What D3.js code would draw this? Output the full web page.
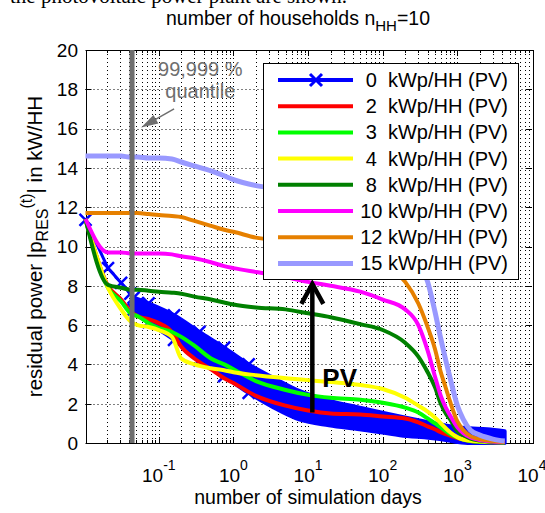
<!DOCTYPE html>
<html>
<head>
<meta charset="utf-8">
<script src="https://d3js.org/d3.v7.min.js"></script>
<style>
  body { margin:0; background:#fff; }
  svg { display:block; font-family:"Liberation Sans", Arial, sans-serif; }
</style>
</head>
<body>
<script>
// number of simulation days where the curves were read (log axis)
var days = [1/96, 2/96, 3/96, 4/96, 5/96, 0.073, 0.1, 0.15, 0.2, 0.3, 0.5, 0.75, 1, 2, 5, 10, 20, 50,
            100, 200, 300, 400, 500, 600, 700, 800, 1000, 1200, 1500, 2000, 3000, 4300];

// residual power in kW/HH for every PV size
var pv2  = [11.4, 8.0, 7.3, 6.7, 6.45, 6.3, 6.1, 5.65, 4.9, 4.3, 3.75, 3.3, 3.05, 2.4, 1.9, 1.65, 1.5, 1.45,
            1.35, 1.25, 1.05, 0.85, 0.7, 0.55, 0.45, 0.37, 0.25, 0.18, 0.1, 0.06, 0.04, 0.03];
var pv3  = [11.4, 7.9, 7.2, 6.6, 6.45, 6.1, 5.85, 5.65, 5.4, 4.95, 4.3, 4.0, 3.75, 3.15, 2.7, 2.45, 2.3, 2.2,
            2.05, 1.8, 1.55, 1.25, 1.0, 0.8, 0.6, 0.45, 0.28, 0.17, 0.1, 0.06, 0.04, 0.03];
var pv4  = [11.4, 7.9, 6.8, 6.2, 6.0, 5.9, 5.75, 5.4, 4.3, 4.0, 3.8, 3.7, 3.6, 3.45, 3.3, 3.2, 3.1, 2.95,
            2.75, 2.3, 1.9, 1.6, 1.3, 1.0, 0.75, 0.55, 0.3, 0.18, 0.12, 0.08, 0.05, 0.04];
var pv8  = [11.4, 8.05, 7.9, 7.8, 7.8, 7.75, 7.7, 7.65, 7.6, 7.45, 7.3, 7.15, 7.05, 6.9, 6.8, 6.6, 6.4, 6.05,
            5.75, 5.1, 4.4, 3.6, 2.85, 2.0, 1.5, 1.2, 0.6, 0.4, 0.22, 0.12, 0.06, 0.04];
var pv10 = [11.4, 9.7, 9.7, 9.65, 9.65, 9.65, 9.65, 9.6, 9.5, 9.4, 9.2, 9.0, 8.9, 8.7, 8.45, 8.2, 8.0, 7.7,
            7.3, 6.8, 6.0, 4.7, 3.4, 2.4, 1.8, 1.4, 0.8, 0.5, 0.28, 0.15, 0.08, 0.05];
var pv12 = [11.7, 11.7, 11.7, 11.7, 11.7, 11.65, 11.6, 11.55, 11.5, 11.3, 11.05, 10.85, 10.75, 10.45, 10.3, 10.1, 9.8, 9.4,
            9.0, 8.2, 7.1, 5.9, 4.8, 3.6, 2.8, 2.1, 1.1, 0.66, 0.35, 0.2, 0.1, 0.05];
var pv15 = [14.6, 14.6, 14.6, 14.55, 14.55, 14.5, 14.5, 14.45, 14.3, 14.1, 13.85, 13.6, 13.4, 13.1, 12.9, 12.6, 12.2, 11.6,
            11.0, 10.2, 9.2, 8.2, 6.7, 5.3, 4.2, 3.3, 1.9, 1.2, 0.65, 0.4, 0.2, 0.1];

// 0 kWp: first single points, then the dense cloud of markers (upper / lower edge)
var blueDays = [1/96, 2/96, 3/96, 4/96, 5/96];
var blueKw   = [11.35, 8.9, 8.15, 7.6, 7.1];
var bandDays = [0.046, 0.073, 0.16, 0.35, 0.75, 1.6, 3.5, 7.6, 19, 49, 170, 580, 1000, 1470, 2500, 4300];
var bandHigh = [7.4, 7.1, 6.5, 5.65, 4.85, 4.0, 3.3, 2.65, 2.15, 1.8, 1.35, 0.95, 0.8, 0.75, 0.7, 0.6];
var bandLow  = [6.8, 6.15, 5.25, 4.2, 3.4, 2.55, 1.8, 1.2, 0.9, 0.7, 0.4, 0.2, 0.05, 0.0, 0.0, 0.0];

var pvSizes  = ["0", "2", "3", "4", "8", "10", "12", "15"];
var pvColors = ["#0000ff", "#ff0000", "#00ff00", "#ffff00", "#008000", "#ff00ff", "#e68000", "#9999ff"];
var xTickExp = [-1, 0, 1, 2, 3, 4];
var yTicks   = [0, 2, 4, 6, 8, 10, 12, 14, 16, 18, 20];
var quantileDay = 0.0438;

var svg = d3.select("body").append("svg")
  .attr("width", 545)
  .attr("height", 513);

svg.append("rect").attr("width", 545).attr("height", 513).attr("fill", "#fff");

var x = d3.scaleLog().domain([1/96, 1e4]).range([85.5, 532]);
var y = d3.scaleLinear().domain([0, 20]).range([443, 50]);
var L = 85.5, R = 532, T = 50, B = 443;
var px = function(v) { return Math.round(v) + 0.5; };

// grid
var minor = [];
for (var e = -2; e < 4; e++) {
  for (var k = 1; k < 10; k++) {
    var v = k * Math.pow(10, e);
    if (v > 1/96 && v < 1e4) minor.push(v);
  }
}
var grid = svg.append("g").attr("stroke", "#000").attr("stroke-width", 1).attr("stroke-dasharray", "1,3");
grid.selectAll(".gx").data(minor).enter().append("line")
  .attr("x1", function(d) { return px(x(d)); }).attr("x2", function(d) { return px(x(d)); })
  .attr("y1", T).attr("y2", B);
grid.selectAll(".gy").data(yTicks.slice(1, -1)).enter().append("line")
  .attr("x1", L).attr("x2", R)
  .attr("y1", function(d) { return px(y(d)); }).attr("y2", function(d) { return px(y(d)); });

// axes box and ticks
var ax = svg.append("g").attr("stroke", "#000").attr("stroke-width", 1).attr("fill", "none");
ax.append("rect").attr("x", px(L)).attr("y", px(T)).attr("width", Math.round(R - L)).attr("height", Math.round(B - T));
minor.forEach(function(d) {
  var isMajor = Math.abs(Math.log10(d) - Math.round(Math.log10(d))) < 1e-9;
  var len = isMajor ? 6 : 3;
  ax.append("line").attr("x1", px(x(d))).attr("x2", px(x(d))).attr("y1", B).attr("y2", B - len);
  ax.append("line").attr("x1", px(x(d))).attr("x2", px(x(d))).attr("y1", T).attr("y2", T + len);
});
yTicks.forEach(function(d) {
  ax.append("line").attr("x1", L).attr("x2", L + 6).attr("y1", px(y(d))).attr("y2", px(y(d)));
  ax.append("line").attr("x1", R).attr("x2", R - 6).attr("y1", px(y(d))).attr("y2", px(y(d)));
});

// tick labels
svg.selectAll(".ytl").data(yTicks).enter().append("text")
  .attr("x", 78).attr("y", function(d) { return y(d); }).attr("dy", "0.36em")
  .attr("text-anchor", "end").attr("font-size", 19).text(function(d) { return d; });
xTickExp.forEach(function(p) {
  var t = svg.append("text").attr("x", x(Math.pow(10, p))).attr("y", 482)
    .attr("text-anchor", "middle").attr("font-size", 19);
  t.append("tspan").text("10");
  t.append("tspan").attr("dy", -12).attr("font-size", 14).text(p);
});

// 0 kWp: marker cloud + single points
var cross = "M-6,-6L6,6M-6,6L6,-6";
var band = bandDays.map(function(d, i) { return { day: d, hi: bandHigh[i], lo: bandLow[i] }; });
var area = d3.area().x(function(d) { return x(d.day); })
  .y0(function(d) { return y(d.lo); }).y1(function(d) { return y(d.hi); })
  .curve(d3.curveMonotoneX);
svg.append("path").attr("d", area(band))
  .attr("fill", pvColors[0]).attr("stroke", pvColors[0]).attr("stroke-width", 4).attr("stroke-linejoin", "round");
// markers sticking out of the cloud where it is still sparse (first part)
var edgePts = band.filter(function(d) { return d.day < 2; });
edgePts = edgePts.map(function(d) { return [d.day, d.hi]; }).concat(edgePts.map(function(d) { return [d.day, d.lo]; }));
svg.selectAll(".emk").data(edgePts).enter().append("path")
  .attr("d", cross)
  .attr("transform", function(d) { return "translate(" + x(d[0]) + "," + y(d[1]) + ")"; })
  .attr("stroke", pvColors[0]).attr("stroke-width", 2.5).attr("fill", "none");

var bluePts = blueDays.map(function(d, i) { return [d, blueKw[i]]; });
var line = d3.line().x(function(d) { return x(d[0]); }).y(function(d) { return y(d[1]); });
svg.append("path").attr("d", line(bluePts.concat([[bandDays[1], (bandHigh[1] + bandLow[1]) / 2]])))
  .attr("fill", "none").attr("stroke", pvColors[0]).attr("stroke-width", 3);
svg.selectAll(".mk").data(bluePts).enter().append("path")
  .attr("d", cross)
  .attr("transform", function(d) { return "translate(" + x(d[0]) + "," + y(d[1]) + ")"; })
  .attr("stroke", pvColors[0]).attr("stroke-width", 2.5).attr("fill", "none");

// PV curves
var series = [pv2, pv3, pv4, pv8, pv10, pv12, pv15];
var curve = d3.line().x(function(d, i) { return x(days[i]); }).y(function(d) { return y(d); })
  .curve(d3.curveMonotoneX);
series.forEach(function(s, i) {
  svg.append("path").attr("d", curve(s))
    .attr("fill", "none").attr("stroke", pvColors[i + 1])
    .attr("stroke-width", i === 6 ? 5 : 4).attr("stroke-linejoin", "round");
});

// black PV arrow
var ax0 = x(11.4), yFrom = y(1.55), yTo = y(8.2);
svg.append("line").attr("x1", ax0).attr("x2", ax0).attr("y1", yFrom).attr("y2", yTo + 3)
  .attr("stroke", "#000").attr("stroke-width", 4.5);
svg.append("path").attr("d", "M" + (ax0 - 11) + "," + (yTo + 22) + "L" + ax0 + "," + (yTo + 2) + "L" + (ax0 + 11) + "," + (yTo + 22))
  .attr("fill", "none").attr("stroke", "#000").attr("stroke-width", 4.5);
svg.append("text").attr("x", ax0 + 10).attr("y", 387).attr("font-size", 26).attr("font-weight", "bold").text("PV");

// 99,999 % quantile marker
var gray = "#6e6e6e";
svg.append("line").attr("x1", x(quantileDay)).attr("x2", x(quantileDay)).attr("y1", T).attr("y2", B)
  .attr("stroke", gray).attr("stroke-width", 5);
svg.append("text").attr("x", x(0.36)).attr("y", 76).attr("text-anchor", "middle")
  .attr("font-size", 20).attr("fill", gray).text("99,999 %");
svg.append("text").attr("x", x(0.36)).attr("y", 98).attr("text-anchor", "middle")
  .attr("font-size", 20).attr("fill", gray).text("quantile");
var a1 = [x(0.16), y(17.0)], a2 = [x(0.058), y(16.05)];
var dx = a2[0] - a1[0], dy = a2[1] - a1[1], len = Math.sqrt(dx * dx + dy * dy);
var ux = dx / len, uy = dy / len;
svg.append("line").attr("x1", a1[0]).attr("y1", a1[1]).attr("x2", a2[0] - ux * 12).attr("y2", a2[1] - uy * 12)
  .attr("stroke", gray).attr("stroke-width", 1.5);
svg.append("path").attr("d", "M" + a2[0] + "," + a2[1] +
    "L" + (a2[0] - ux * 17 - uy * 5) + "," + (a2[1] - uy * 17 + ux * 5) +
    "L" + (a2[0] - ux * 17 + uy * 5) + "," + (a2[1] - uy * 17 - ux * 5) + "Z")
  .attr("fill", gray);

// legend
var lg = svg.append("g");
lg.append("rect").attr("x", 263.5).attr("y", 63.5).attr("width", 255).attr("height", 216)
  .attr("fill", "#fff").attr("stroke", "#000");
pvSizes.forEach(function(s, i) {
  var ly = 80 + i * 26.2;
  lg.append("line").attr("x1", 278).attr("x2", 353).attr("y1", ly).attr("y2", ly)
    .attr("stroke", pvColors[i]).attr("stroke-width", i === 7 ? 5 : 4);
  if (i === 0) {
    lg.append("path").attr("d", cross).attr("transform", "translate(316," + ly + ")")
      .attr("stroke", pvColors[0]).attr("stroke-width", 3).attr("fill", "none");
  }
  lg.append("text").attr("x", 508).attr("y", ly + 7).attr("text-anchor", "end")
    .attr("font-size", 20).style("white-space", "pre")
    .text(s + (s.length === 1 ? "  " : " ") + "kWp/HH (PV)");
});

// title and axis labels
var ttl = svg.append("text").attr("x", 298).attr("y", 25).attr("text-anchor", "middle").attr("font-size", 19.5);
ttl.append("tspan").text("number of households n");
ttl.append("tspan").attr("dy", 6).attr("font-size", 15).text("HH");
ttl.append("tspan").attr("dy", -6).text("=10");

svg.append("text").attr("x", 308).attr("y", 504).attr("text-anchor", "middle").attr("font-size", 19.5)
  .text("number of simulation days");

var yl = svg.append("text").attr("transform", "translate(42,246.5) rotate(-90)")
  .attr("text-anchor", "middle").attr("font-size", 20.5);
yl.append("tspan").text("residual power |p");
yl.append("tspan").attr("dy", 6).attr("font-size", 16).text("RES");
yl.append("tspan").attr("dy", -16).attr("font-size", 16).text("(t)");
yl.append("tspan").attr("dy", 10).text("| in kW/HH");

// cut off line of the surrounding page
svg.append("text").attr("x", 10).attr("y", 3).attr("font-family", "Liberation Serif, serif")
  .attr("font-size", 21).text("the photovoltaic power plant are shown.");
</script>
</body>
</html>
